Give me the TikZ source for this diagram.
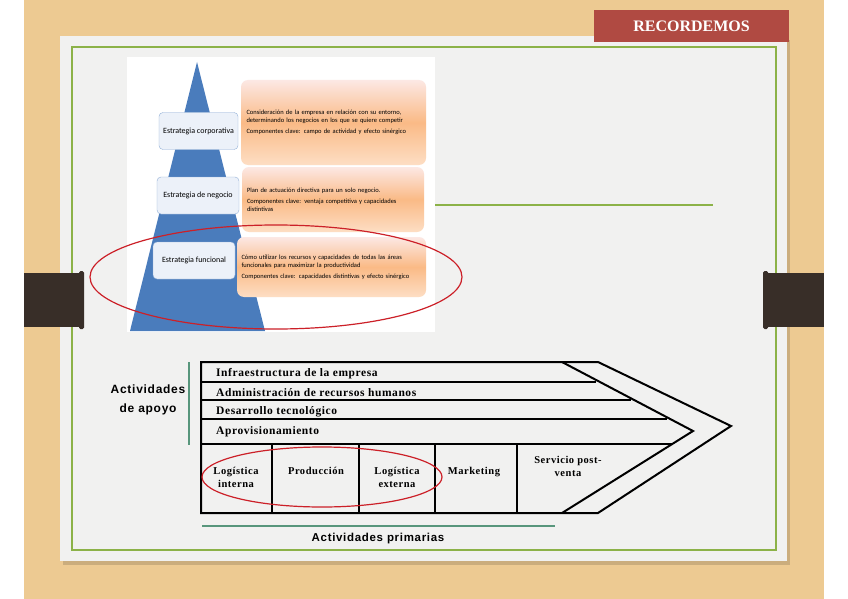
\documentclass[tikz,border=0pt]{standalone}
\usepackage{fontspec}
\setmainfont{Liberation Serif}
\newfontfamily\chainfont[LetterSpace=5]{Liberation Serif}
\newfontfamily\apoyofont[LetterSpace=6]{Liberation Sans}
\newfontfamily\pyrfont{Carlito}
\definecolor{woodTan}{RGB}{237,202,146}
\definecolor{paperGray}{RGB}{241,241,240}
\definecolor{frameGreen}{RGB}{140,178,72}
\definecolor{clipBrown}{RGB}{56,46,40}
\definecolor{bannerRed}{RGB}{176,74,66}
\definecolor{pyrBlue}{RGB}{74,124,188}
\definecolor{tagFill}{RGB}{236,241,249}
\definecolor{ringRed}{RGB}{204,32,40}
\definecolor{barTeal}{RGB}{88,150,124}
\definecolor{orangeTop}{RGB}{252,232,228}
\definecolor{orangeMid}{RGB}{250,186,134}
\definecolor{orangeBot}{RGB}{253,222,196}
\usepackage{tikz}
\usetikzlibrary{positioning}

\begin{document}
\begin{tikzpicture}[x=1pt,y=-1pt,
      tag/.style={draw=pyrBlue!60, fill=tagFill, rounded corners=4pt, inner sep=2pt,
                  font=\pyrfont\fontsize{8}{9}\selectfont, minimum height=37pt},
      note/.style={rounded corners=7pt, top color=orangeTop, bottom color=orangeBot,
                   middle color=orangeMid, inner sep=0pt, align=left,
                   font=\pyrfont\fontsize{6.5}{8}\selectfont},
      ring/.style={draw=ringRed, line width=1.2pt},
      row/.style={font=\chainfont\bfseries\fontsize{11.5}{13}\selectfont, anchor=west, inner sep=0pt},
      cell/.style={font=\chainfont\bfseries\fontsize{10.5}{13}\selectfont, align=center,
                   anchor=north, inner sep=0pt},
      chain/.style={line width=2pt, line join=miter},
      sub/.style={line width=1.1pt},
      bar/.style={barTeal, line width=2.6pt}
    ]
      \useasboundingbox (0,0) rectangle (848,599);
      % Background: wood, paper, frame
      \fill[woodTan] (24,0) rectangle (824,599);
      \fill[black, opacity=.14] (63,40) rectangle (790,565);
      \fill[paperGray] (60,36) rectangle (787,561);
      \draw[frameGreen, line width=1.6pt] (72,47) rectangle (776,550);
      \draw[frameGreen, line width=1.6pt] (435,205) -- (713,205);
      % Clips
      \fill[clipBrown] (24,273) rectangle (81,327);
      \fill[clipBrown, rounded corners=1.5pt] (79,271) rectangle (84,329);
      \fill[clipBrown] (767,273) rectangle (824,327);
      \fill[clipBrown, rounded corners=1.5pt] (763,271) rectangle (768,329);
      % Title
      \node[fill=bannerRed, text=white, minimum width=195pt, minimum height=32pt,
            font=\bfseries\fontsize{16}{18}\selectfont] (title) at (691.5,26) {RECORDEMOS};

      % Strategy levels: pyramid
      \fill[white] (127,57) rectangle (435,332);
      \fill[pyrBlue] (130,331) -- (197,62) -- (265,331) -- cycle;
      \node[tag, minimum width=79pt] (corp) at (198.5,131) {Estrategia corporativa};
      \node[tag, minimum width=82pt] (neg) at (198,195.5) {Estrategia de negocio};
      \node[tag, minimum width=82pt] (func) at (194,260.5) {Estrategia funcional};
      \node[note, minimum width=185pt, minimum height=85pt, text width=174pt] (corpN) at (333.5,122.5)
        {Consideración de la empresa en relación con su entorno,\\determinando los negocios en los que se quiere competir\\[3pt]
         Componentes clave: campo de actividad y efecto sinérgico};
      \node[note, minimum width=182pt, minimum height=65pt, text width=172pt] (negN) at (333,199.5)
        {Plan de actuación directiva para un solo negocio.\\[3pt]
         Componentes clave: ventaja competitiva y capacidades\\distintivas};
      \node[note, minimum width=189pt, minimum height=60pt, text width=180pt] (funcN) at (331.5,267)
        {Cómo utilizar los recursos y capacidades de todas las áreas\\funcionales para maximizar la productividad\\[3pt]
         Componentes clave: capacidades distintivas y efecto sinérgico};
      \draw[ring] (276,277) ellipse [x radius=186pt, y radius=52pt];

      % Value chain: outline
      \draw[chain] (201,362) -- (598,362) -- (731,426) -- (598,513) -- (201,513) -- cycle;
      \draw[chain] (562,362) -- (693,431) -- (562,513);
      \draw[chain] (201,444) -- (672,444);
      \foreach \y/\x in {382/596, 400/631, 419/667}
        \draw[sub] (201,\y) -- (\x,\y);
      \foreach \x in {272,359,435,517}
        \draw[sub] (\x,444) -- (\x,513);
      % Support activities
      \node[row] (infra) at (216,374) {Infraestructura de la empresa};
      \node[row] (rrhh) at (216,393) {Administración de recursos humanos};
      \node[row] (tec) at (216,412) {Desarrollo tecnológico};
      \node[row] (aprov) at (216,432) {Aprovisionamiento};
      \node[font=\apoyofont\bfseries\fontsize{12}{19}\selectfont, align=center] (apoyo) at (148,400)
        {Actividades\\de apoyo};
      \draw[bar] (189,362) -- (189,445);
      % Primary activities
      \node[cell] (logIn) at (236,467) {Logística\\interna};
      \node[cell] (prod) at (316,467) {Producción};
      \node[cell] (logEx) at (397,467) {Logística\\externa};
      \node[cell] (mkt) at (474,467) {Marketing};
      \node[cell] (serv) at (568,456) {Servicio post-\\venta};
      \draw[ring] (322,477) ellipse [x radius=120pt, y radius=30pt];
      \coordinate (barL) at (202,526);
      \coordinate (barR) at (555,526);
      \draw[bar] (barL) -- (barR);
      \node[font=\apoyofont\bfseries\fontsize{11.5}{13}\selectfont] (prim) at (378,539) {Actividades primarias};
    \end{tikzpicture}
\end{document}
